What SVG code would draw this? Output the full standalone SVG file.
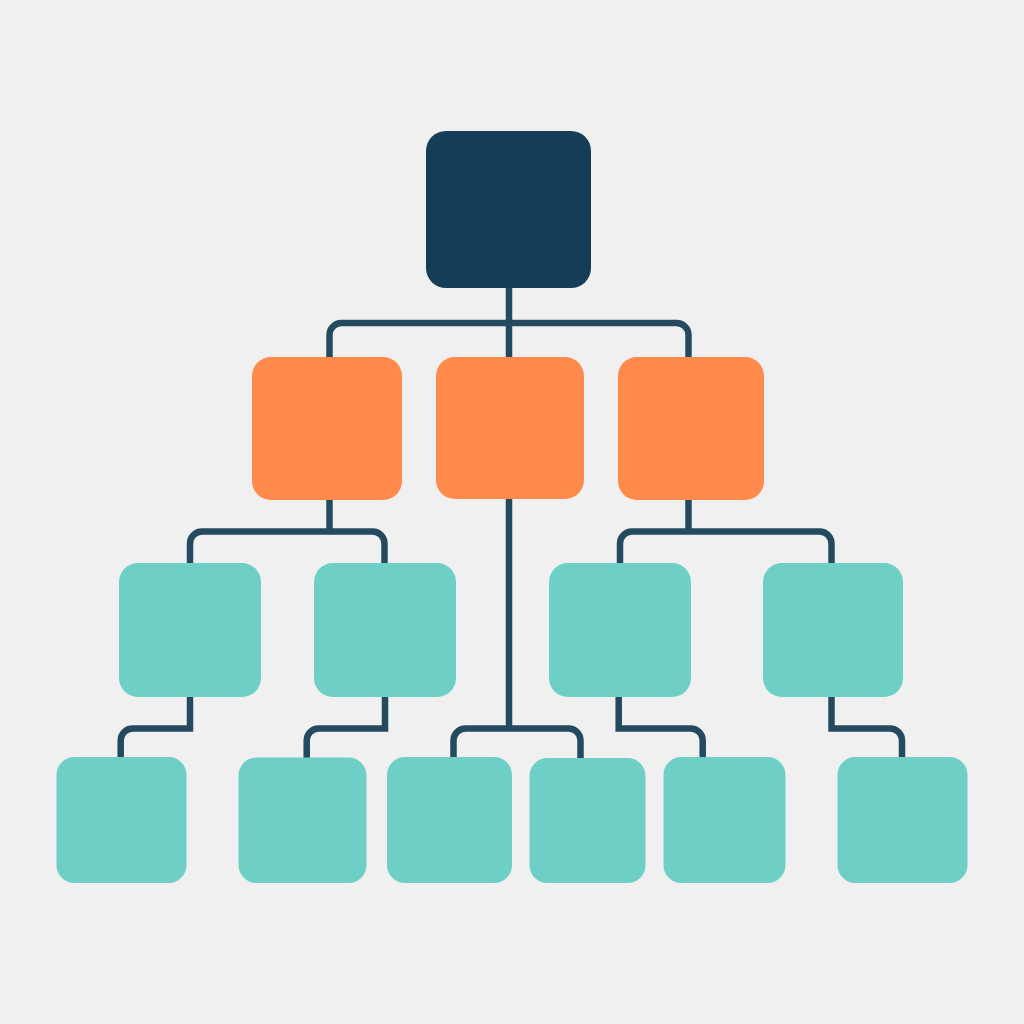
<svg xmlns="http://www.w3.org/2000/svg" width="1024" height="1024" viewBox="0 0 1024 1024">
  <style>
    .edge { fill: none; stroke: #244a60; stroke-width: 6.5; stroke-linejoin: miter; stroke-linecap: butt; }
    .root { fill: #163d57; }
    .mid { fill: #ff8a4b; }
    .leaf { fill: #6dcfc5; }
  </style>
  <rect x="0" y="0" width="1024" height="1024" fill="#f0f0f0"/>
  <g id="connectors">
    <path class="edge" d="M509,286 V360"/>
    <path class="edge" d="M329.5,360 V335 A12,12 0 0 1 341.5,323 H676.5 A12,12 0 0 1 688.5,335 V360"/>
    <path class="edge" d="M329.5,498 V531.5"/>
    <path class="edge" d="M190,565 V543.5 A12,12 0 0 1 202,531.5 H372.5 A12,12 0 0 1 384.5,543.5 V565"/>
    <path class="edge" d="M509,497 V728.5"/>
    <path class="edge" d="M453.5,759 V740.5 A12,12 0 0 1 465.5,728.5 H568.5 A12,12 0 0 1 580.5,740.5 V759"/>
    <path class="edge" d="M688.5,498 V531.5"/>
    <path class="edge" d="M620,565 V543.5 A12,12 0 0 1 632,531.5 H819.5 A12,12 0 0 1 831.5,543.5 V565"/>
    <path class="edge" d="M190,695 V728.5 H132.7 A12,12 0 0 0 120.7,740.5 V759"/>
    <path class="edge" d="M385,695 V728.5 H318.7 A12,12 0 0 0 306.7,740.5 V759"/>
    <path class="edge" d="M618.7,695 V728.5 H690.7 A12,12 0 0 1 702.7,740.5 V759"/>
    <path class="edge" d="M831.5,695 V728.5 H890 A12,12 0 0 1 902,740.5 V759"/>
  </g>
  <g id="root"><rect class="root" x="426" y="131" width="165" height="157" rx="20"/></g>
  <g id="mid-1"><rect class="mid" x="252" y="357" width="150" height="143" rx="19"/></g>
  <g id="mid-2"><rect class="mid" x="436" y="357" width="148" height="142" rx="19"/></g>
  <g id="mid-3"><rect class="mid" x="618" y="357" width="146" height="143" rx="19"/></g>
  <g id="leaf-1"><rect class="leaf" x="119" y="563" width="142" height="134" rx="19"/></g>
  <g id="leaf-2"><rect class="leaf" x="314" y="563" width="142" height="134" rx="19"/></g>
  <g id="leaf-3"><rect class="leaf" x="549" y="563" width="142" height="134" rx="19"/></g>
  <g id="leaf-4"><rect class="leaf" x="763" y="563" width="140" height="134" rx="19"/></g>
  <g id="leaf-5"><rect class="leaf" x="56.5" y="757" width="130" height="126" rx="18"/></g>
  <g id="leaf-6"><rect class="leaf" x="238.5" y="757.5" width="128" height="125.5" rx="18"/></g>
  <g id="leaf-7"><rect class="leaf" x="387" y="757" width="125" height="126" rx="18"/></g>
  <g id="leaf-8"><rect class="leaf" x="529.5" y="758" width="116" height="125" rx="18"/></g>
  <g id="leaf-9"><rect class="leaf" x="663.5" y="757" width="122" height="126" rx="18"/></g>
  <g id="leaf-10"><rect class="leaf" x="837.5" y="757" width="130" height="126" rx="18"/></g>
</svg>
